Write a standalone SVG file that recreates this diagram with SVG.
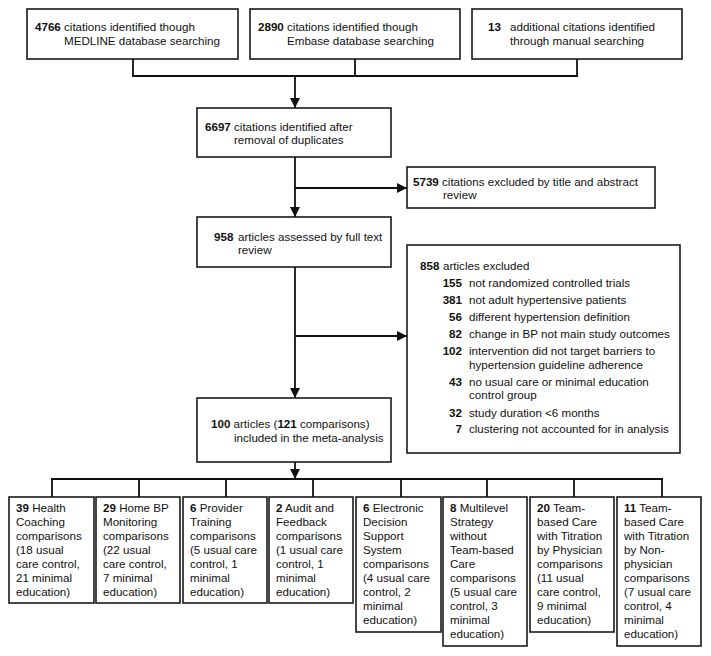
<svg xmlns="http://www.w3.org/2000/svg" width="711" height="656" viewBox="0 0 711 656">
<defs>
<style>
text{font-family:"Liberation Sans",Arial,sans-serif;font-size:11.6px;fill:#111}
.b{font-weight:bold}
rect{fill:#fff;stroke:#1a1a1a;stroke-width:1.6}
.c{fill:none;stroke:#111;stroke-width:1.8}
.r{text-anchor:end;font-weight:bold}
</style>
<marker id="ah" viewBox="0 0 10 10" refX="10" refY="5" markerWidth="10" markerHeight="10" markerUnits="userSpaceOnUse" orient="auto">
<path d="M0,0 L10,5 L0,10 z" fill="#111"/>
</marker>
</defs>
<g id="connectors">
<path class="c" d="M133,59 V76 M355,59 V76 M577,59 V76 M132,76 H578"/>
<path class="c" d="M295,76 V108" marker-end="url(#ah)"/>
<path class="c" d="M295,157 V217" marker-end="url(#ah)"/>
<path class="c" d="M295,188 H407" marker-end="url(#ah)"/>
<path class="c" d="M295,267 V398" marker-end="url(#ah)"/>
<path class="c" d="M295,336 H407" marker-end="url(#ah)"/>
<path class="c" d="M295,462 V479" marker-end="url(#ah)"/>
<path class="c" d="M51,479 H663 M52,479 V497 M139,479 V497 M226,479 V497 M313,479 V497 M401,479 V497 M487,479 V497 M574,479 V497 M662,479 V497"/>
</g>
<g id="n-medline">
<rect x="27" y="9" width="211" height="50"/>
<text x="35" y="31"><tspan class="b">4766</tspan> citations identified though</text>
<text x="64" y="45">MEDLINE database searching</text>
</g>
<g id="n-embase">
<rect x="250" y="9" width="210" height="50"/>
<text x="258" y="31"><tspan class="b">2890</tspan> citations identified though</text>
<text x="287" y="45">Embase database searching</text>
</g>
<g id="n-manual">
<rect x="472" y="9" width="210" height="50"/>
<text x="488" y="31" class="b">13</text>
<text x="510" y="31">additional citations identified</text>
<text x="510" y="45">through manual searching</text>
</g>
<g id="n-dedup">
<rect x="197" y="108" width="194" height="49"/>
<text x="205" y="130.5"><tspan class="b">6697</tspan> citations identified after</text>
<text x="234" y="144">removal of duplicates</text>
</g>
<g id="n-excl1">
<rect x="407" y="167" width="248" height="41"/>
<text x="413" y="185.5"><tspan class="b">5739</tspan> citations excluded by title and abstract</text>
<text x="443" y="199">review</text>
</g>
<g id="n-fulltext">
<rect x="197" y="217" width="194" height="50"/>
<text x="214" y="240.5" class="b">958</text>
<text x="238" y="240.5">articles assessed by full text</text>
<text x="238" y="254">review</text>
</g>
<g id="n-excl2">
<rect x="407" y="245" width="273" height="208"/>
<text x="420" y="270" class="b">858</text>
<text x="443" y="270">articles excluded</text>
<text x="462" y="287" class="r">155</text><text x="469" y="287">not randomized controlled trials</text>
<text x="462" y="304" class="r">381</text><text x="469" y="304">not adult hypertensive patients</text>
<text x="462" y="321" class="r">56</text><text x="469" y="321">different hypertension definition</text>
<text x="462" y="338" class="r">82</text><text x="469" y="338">change in BP not main study outcomes</text>
<text x="462" y="355" class="r">102</text><text x="469" y="355">intervention did not target barriers to</text>
<text x="469" y="369">hypertension guideline adherence</text>
<text x="462" y="386" class="r">43</text><text x="469" y="386">no usual care or minimal education</text>
<text x="469" y="399">control group</text>
<text x="462" y="417" class="r">32</text><text x="469" y="417">study duration &lt;6 months</text>
<text x="462" y="433" class="r">7</text><text x="469" y="433">clustering not accounted for in analysis</text>
</g>
<g id="n-included">
<rect x="197" y="398" width="194" height="64"/>
<text x="211" y="428"><tspan class="b">100</tspan> articles (<tspan class="b">121</tspan> comparisons)</text>
<text x="234" y="441.5">included in the meta-analysis</text>
</g>
<g id="n-coaching">
<rect x="9" y="497" width="85" height="106"/>
<text x="16" y="512"><tspan class="b">39</tspan> Health</text>
<text x="16" y="526">Coaching</text>
<text x="16" y="540">comparisons</text>
<text x="16" y="554">(18 usual</text>
<text x="16" y="568">care control,</text>
<text x="16" y="582">21 minimal</text>
<text x="16" y="596">education)</text>
</g>
<g id="n-homebp">
<rect x="96" y="497" width="84" height="106"/>
<text x="103" y="512"><tspan class="b">29</tspan> Home BP</text>
<text x="103" y="526">Monitoring</text>
<text x="103" y="540">comparisons</text>
<text x="103" y="554">(22 usual</text>
<text x="103" y="568">care control,</text>
<text x="103" y="582">7 minimal</text>
<text x="103" y="596">education)</text>
</g>
<g id="n-provider">
<rect x="183" y="497" width="84" height="106"/>
<text x="190" y="512"><tspan class="b">6</tspan> Provider</text>
<text x="190" y="526">Training</text>
<text x="190" y="540">comparisons</text>
<text x="190" y="554">(5 usual care</text>
<text x="190" y="568">control, 1</text>
<text x="190" y="582">minimal</text>
<text x="190" y="596">education)</text>
</g>
<g id="n-audit">
<rect x="269" y="497" width="84" height="106"/>
<text x="276" y="512"><tspan class="b">2</tspan> Audit and</text>
<text x="276" y="526">Feedback</text>
<text x="276" y="540">comparisons</text>
<text x="276" y="554">(1 usual care</text>
<text x="276" y="568">control, 1</text>
<text x="276" y="582">minimal</text>
<text x="276" y="596">education)</text>
</g>
<g id="n-electronic">
<rect x="356" y="497" width="85" height="135"/>
<text x="363" y="512"><tspan class="b">6</tspan> Electronic</text>
<text x="363" y="526">Decision</text>
<text x="363" y="540">Support</text>
<text x="363" y="554">System</text>
<text x="363" y="568">comparisons</text>
<text x="363" y="582">(4 usual care</text>
<text x="363" y="596">control, 2</text>
<text x="363" y="610">minimal</text>
<text x="363" y="624">education)</text>
</g>
<g id="n-multilevel">
<rect x="443" y="497" width="84" height="149"/>
<text x="450" y="512"><tspan class="b">8</tspan> Multilevel</text>
<text x="450" y="526">Strategy</text>
<text x="450" y="540">without</text>
<text x="450" y="554">Team-based</text>
<text x="450" y="568">Care</text>
<text x="450" y="582">comparisons</text>
<text x="450" y="596">(5 usual care</text>
<text x="450" y="610">control, 3</text>
<text x="450" y="624">minimal</text>
<text x="450" y="638">education)</text>
</g>
<g id="n-team-physician">
<rect x="530" y="497" width="84" height="135"/>
<text x="537" y="512"><tspan class="b">20</tspan> Team-</text>
<text x="537" y="526">based Care</text>
<text x="537" y="540">with Titration</text>
<text x="537" y="554">by Physician</text>
<text x="537" y="568">comparisons</text>
<text x="537" y="582">(11 usual</text>
<text x="537" y="596">care control,</text>
<text x="537" y="610">9 minimal</text>
<text x="537" y="624">education)</text>
</g>
<g id="n-team-nonphysician">
<rect x="617" y="497" width="84" height="149"/>
<text x="624" y="512"><tspan class="b">11</tspan> Team-</text>
<text x="624" y="526">based Care</text>
<text x="624" y="540">with Titration</text>
<text x="624" y="554">by Non-</text>
<text x="624" y="568">physician</text>
<text x="624" y="582">comparisons</text>
<text x="624" y="596">(7 usual care</text>
<text x="624" y="610">control, 4</text>
<text x="624" y="624">minimal</text>
<text x="624" y="638">education)</text>
</g>
</svg>
